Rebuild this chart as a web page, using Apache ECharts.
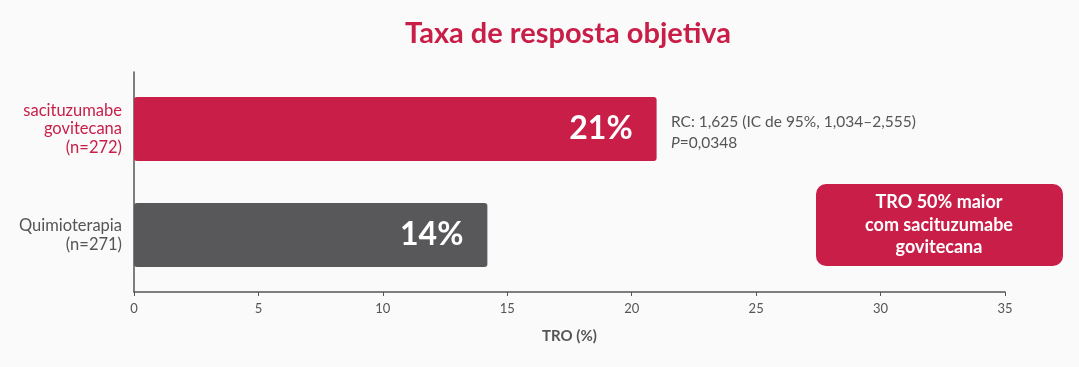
<!DOCTYPE html>
<html>
<head>
<meta charset="utf-8">
<script src="https://cdn.jsdelivr.net/npm/echarts@6/dist/echarts.min.js"></script>
<style>
html,body{margin:0;padding:0;background:#fafafa;}
#c{width:1079px;height:367px;}
</style>
</head>
<body>
<div id="c"></div>
<script>
var categories = ['sacituzumabe\ngovitecana\n(n=272)', 'Quimioterapia\n(n=271)'];
var values = [21.0, 14.2];
var valueLabels = ['21%', '14%'];
var xTicks = [0, 5, 10, 15, 20, 25, 30, 35];
var titleText = 'Taxa de resposta objetiva';
var statLines = ['RC: 1,625 (IC de 95%, 1,034\u20132,555)', '{i|P}=0,0348'];
var boxLines = ['TRO 50% maior', 'com sacituzumabe', 'govitecana'];

var RED = '#C81E48';
var GRAY = '#58585A';
var FONT = 'Lato, "Open Sans", sans-serif';

var chart = echarts.init(document.getElementById('c'), null, {renderer: 'canvas'});
chart.setOption({
  backgroundColor: '#fafafa',
  animation: false,
  textStyle: {fontFamily: FONT},
  title: {
    text: titleText,
    left: 400,
    top: 14,
    textStyle: {color: RED, fontSize: 29, fontWeight: 'bold', fontFamily: FONT}
  },
  grid: [
    {left: 134, right: 74, top: 72, bottom: 75},
    {left: 134, right: 74, top: 76, bottom: 79}
  ],
  xAxis: [{
    type: 'value',
    gridIndex: 0,
    min: 0, max: 35, interval: 5,
    name: 'TRO (%)',
    nameLocation: 'middle',
    nameGap: 37,
    nameTextStyle: {color: '#555', fontSize: 15, fontWeight: 'bold'},
    axisLine: {show: true, lineStyle: {color: '#555', width: 1.5}},
    axisTick: {show: true, length: 4, lineStyle: {color: '#555'}},
    axisLabel: {color: '#555', fontSize: 13, margin: 10,
      formatter: function (v) { return xTicks.indexOf(v) >= 0 ? String(v) : ''; }},
    splitLine: {show: false}
  }, {
    type: 'value',
    gridIndex: 1,
    min: 0, max: 35, interval: 5,
    show: false
  }],
  yAxis: [{
    type: 'category',
    gridIndex: 0,
    data: categories,
    inverse: true,
    axisLine: {show: true, lineStyle: {color: '#555', width: 1.5}},
    axisTick: {show: false},
    axisLabel: {show: false}
  }, {
    type: 'category',
    gridIndex: 1,
    data: categories,
    inverse: true,
    axisLine: {show: false},
    axisTick: {show: false},
    axisLabel: {
      margin: 12,
      fontSize: 16.5,
      lineHeight: 18.5,
      align: 'right',
      color: function (v, i) { return i === 0 ? RED : '#555'; }
    }
  }],
  series: [{
    type: 'bar',
    xAxisIndex: 1,
    yAxisIndex: 1,
    barWidth: 64,
    data: values.map(function (v, i) {
      return {value: v, itemStyle: {color: i === 0 ? RED : GRAY, borderRadius: 3}};
    }),
    label: {
      show: true,
      position: 'insideRight',
      distance: 24,
      color: '#fff',
      fontSize: 32,
      fontWeight: 'bold',
      formatter: function (p) { return valueLabels[p.dataIndex]; }
    }
  }],
  graphic: [
    {
      type: 'text',
      left: 671,
      top: 111,
      style: {
        text: statLines.join('\n'),
        fill: '#555',
        font: '15.5px ' + FONT,
        lineHeight: 21,
        rich: {i: {fontStyle: 'italic', fontSize: 15.5, fill: '#555', fontFamily: FONT}}
      }
    },
    {
      type: 'rect',
      shape: {x: 816, y: 184, width: 247, height: 82, r: 10},
      style: {fill: RED}
    },
    {
      type: 'text',
      x: 939,
      y: 225,
      style: {
        text: boxLines.join('\n'),
        fill: '#fff',
        font: 'bold 18px ' + FONT,
        lineHeight: 22.5,
        align: 'center',
        verticalAlign: 'middle'
      }
    }
  ]
});
</script>
</body>
</html>
